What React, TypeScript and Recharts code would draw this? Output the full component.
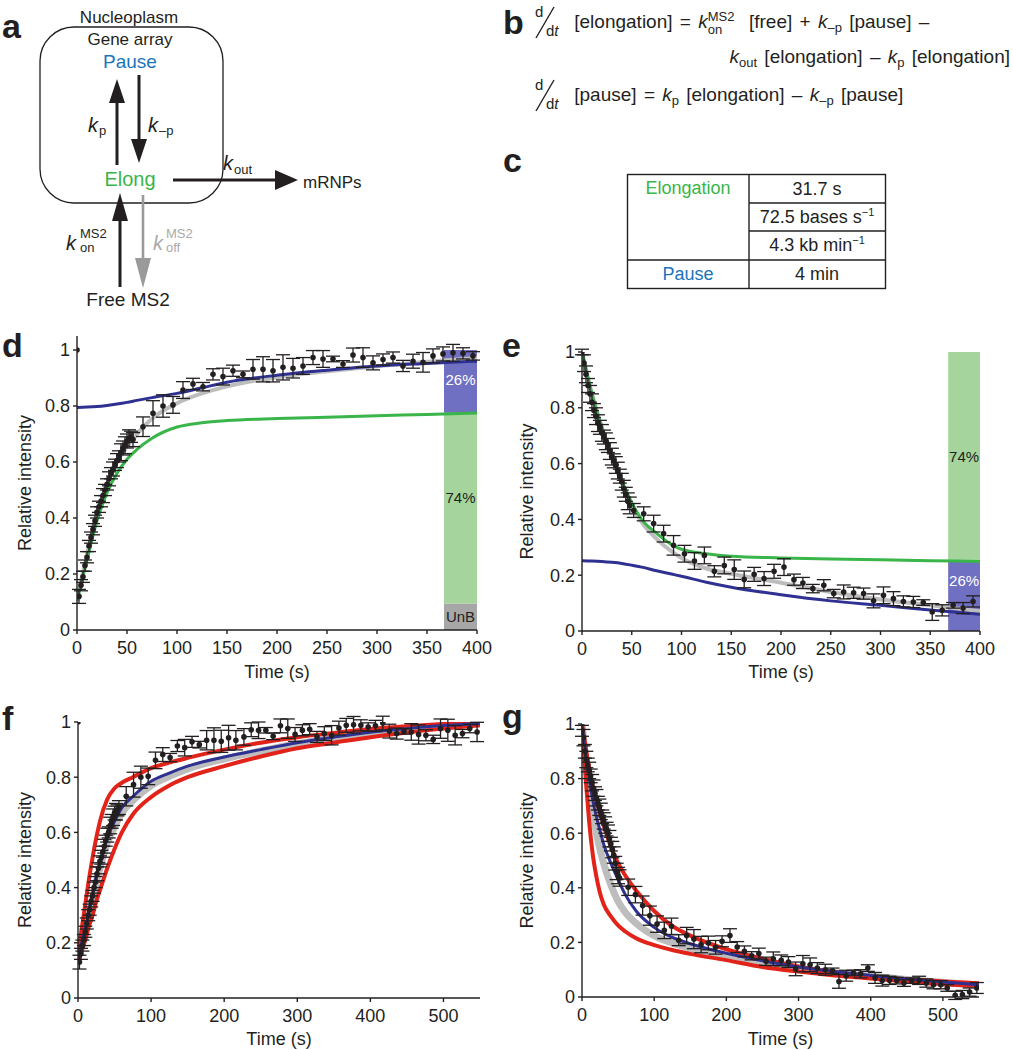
import React from 'react';
import {
  ComposedChart,
  Line,
  Scatter,
  ErrorBar,
  XAxis,
  YAxis,
  ReferenceArea,
} from 'recharts';

const INK = '#231f20';
const BLUE = '#2e3192';
const GREEN = '#39b54a';
const GRAY = '#bdbdbd';
const RED = '#e2231a';
const FONT = '"Liberation Sans", Arial, Helvetica, sans-serif';

const Y_TICKS = [0, 0.2, 0.4, 0.6, 0.8, 1];
const X_TICKS_400 = [0, 50, 100, 150, 200, 250, 300, 350, 400];
const X_TICKS_550 = [0, 100, 200, 300, 400, 500];

// d: FRAP recovery, [time, intensity, error]
const D_POINTS = [
  [0, 1, 0],
  [2, 0.12, 0.025], [4, 0.16, 0.02], [6, 0.19, 0.02], [8, 0.23, 0.02], [10, 0.26, 0.02],
  [12, 0.3, 0.02], [14, 0.33, 0.02], [16, 0.36, 0.02], [18, 0.39, 0.02], [20, 0.42, 0.02],
  [22, 0.44, 0.02], [24, 0.46, 0.02], [26, 0.48, 0.025], [28, 0.5, 0.02], [30, 0.52, 0.02],
  [32, 0.54, 0.025], [34, 0.56, 0.02], [36, 0.575, 0.025], [38, 0.59, 0.02], [40, 0.605, 0.025],
  [42, 0.62, 0.02], [44, 0.635, 0.03], [46, 0.65, 0.025], [48, 0.66, 0.03], [50, 0.675, 0.025],
  [52, 0.685, 0.03], [54, 0.69, 0.02], [56, 0.68, 0.025],
  [66, 0.726, 0.035], [76, 0.774, 0.045], [86, 0.8, 0.04], [96, 0.804, 0.03], [106, 0.857, 0.03],
  [116, 0.879, 0.02], [126, 0.869, 0.015], [136, 0.913, 0.02], [146, 0.905, 0.03], [156, 0.926, 0.02],
  [166, 0.913, 0.012], [176, 0.931, 0.035], [186, 0.931, 0.045], [196, 0.926, 0.04], [206, 0.938, 0.045],
  [216, 0.935, 0.035], [226, 0.943, 0.03], [236, 0.973, 0.025], [246, 0.968, 0.03], [256, 0.968, 0.01],
  [266, 0.95, 0.012], [276, 0.982, 0.025], [286, 0.973, 0.035], [296, 0.954, 0.025], [306, 0.966, 0.02],
  [316, 0.973, 0.02], [326, 0.943, 0.02], [336, 0.96, 0.025], [346, 0.956, 0.035], [356, 0.979, 0.025],
  [366, 0.986, 0.025], [376, 0.99, 0.03], [386, 0.988, 0.02], [396, 0.979, 0.015],
];
const D_GRID = [0, 10, 20, 30, 40, 50, 60, 75, 100, 125, 150, 200, 250, 300, 350, 400];
const D_BLUE = [0.795, 0.796, 0.798, 0.802, 0.807, 0.813, 0.82, 0.83, 0.845, 0.865, 0.885, 0.91, 0.928, 0.943, 0.952, 0.96];
const D_GREEN = [0.105, 0.25, 0.39, 0.49, 0.56, 0.61, 0.645, 0.685, 0.725, 0.74, 0.748, 0.755, 0.76, 0.765, 0.77, 0.775];
const D_GRAY = [0.11, 0.27, 0.42, 0.52, 0.6, 0.655, 0.7, 0.755, 0.81, 0.845, 0.87, 0.903, 0.924, 0.942, 0.958, 0.972];
const D_BAR_T = [367, 400];
const D_BAR_EDGES = [0, 0.095, 0.776, 1];
const D_BAR_LABELS = ['UnB', '74%', '26%'];

// e: loss of fluorescence
const E_POINTS = [
  [0, 1, 0.01],
  [2, 0.96, 0.03], [4, 0.92, 0.03], [6, 0.88, 0.025], [8, 0.85, 0.03], [10, 0.82, 0.03],
  [12, 0.79, 0.025], [14, 0.77, 0.03], [16, 0.745, 0.03], [18, 0.73, 0.025], [20, 0.71, 0.03],
  [22, 0.695, 0.025], [24, 0.68, 0.03], [26, 0.665, 0.025], [28, 0.645, 0.03], [30, 0.625, 0.03],
  [32, 0.61, 0.025], [34, 0.595, 0.03], [36, 0.575, 0.03], [38, 0.555, 0.025], [40, 0.535, 0.03],
  [42, 0.51, 0.03], [44, 0.49, 0.025], [46, 0.465, 0.03], [48, 0.45, 0.03],
  [52, 0.432, 0.025], [62, 0.42, 0.025], [72, 0.385, 0.03], [82, 0.349, 0.03], [92, 0.307, 0.035],
  [103, 0.277, 0.03], [113, 0.251, 0.03], [123, 0.271, 0.03], [133, 0.214, 0.02], [143, 0.235, 0.03],
  [153, 0.22, 0.035], [163, 0.185, 0.03], [173, 0.203, 0.025], [183, 0.188, 0.025], [193, 0.214, 0.025],
  [203, 0.229, 0.03], [213, 0.184, 0.02], [222, 0.172, 0.02], [232, 0.152, 0.015], [243, 0.164, 0.02],
  [253, 0.134, 0.015], [263, 0.14, 0.025], [273, 0.137, 0.02], [283, 0.134, 0.02], [293, 0.108, 0.025],
  [303, 0.128, 0.03], [313, 0.116, 0.025], [323, 0.106, 0.02], [333, 0.104, 0.02], [343, 0.102, 0.01],
  [352, 0.068, 0.03], [362, 0.074, 0.02], [373, 0.092, 0.01], [383, 0.082, 0.02], [393, 0.106, 0.02],
];
const E_GRID = [0, 10, 20, 30, 40, 50, 60, 75, 90, 100, 125, 150, 200, 250, 300, 350, 400];
const E_GREEN = [1, 0.85, 0.73, 0.63, 0.54, 0.46, 0.4, 0.35, 0.31, 0.293, 0.277, 0.268, 0.262, 0.258, 0.255, 0.252, 0.249];
const E_GRAY = [1, 0.85, 0.73, 0.62, 0.53, 0.45, 0.39, 0.33, 0.285, 0.262, 0.224, 0.205, 0.173, 0.14, 0.113, 0.092, 0.071];
const E_BLUE = [0.252, 0.251, 0.249, 0.246, 0.242, 0.236, 0.229, 0.216, 0.204, 0.196, 0.175, 0.157, 0.13, 0.108, 0.092, 0.075, 0.06];
const E_BAR_T = [368, 400];
const E_BAR_EDGES = [0, 0.25, 1];
const E_BAR_LABELS = ['26%', '74%'];

// f: recovery, longer time window, with parameter bounds
const F_POINTS = [
  [0, 1, 0],
  [2, 0.13, 0.025], [4, 0.16, 0.02], [6, 0.19, 0.02], [8, 0.21, 0.02], [10, 0.24, 0.02],
  [12, 0.27, 0.02], [14, 0.3, 0.02], [16, 0.32, 0.02], [18, 0.35, 0.02], [20, 0.37, 0.02],
  [22, 0.4, 0.02], [24, 0.42, 0.02], [26, 0.45, 0.025], [28, 0.47, 0.02], [30, 0.495, 0.02],
  [32, 0.51, 0.025], [34, 0.53, 0.02], [36, 0.55, 0.025], [38, 0.57, 0.02], [40, 0.59, 0.025],
  [42, 0.6, 0.02], [44, 0.625, 0.03], [46, 0.64, 0.025], [48, 0.655, 0.03], [50, 0.67, 0.025],
  [52, 0.675, 0.03], [54, 0.68, 0.02], [56, 0.69, 0.025],
  [66, 0.731, 0.035], [76, 0.773, 0.045], [86, 0.8, 0.04], [96, 0.803, 0.03], [106, 0.861, 0.03],
  [116, 0.882, 0.025], [126, 0.871, 0.015], [136, 0.913, 0.02], [146, 0.907, 0.03], [156, 0.928, 0.02],
  [166, 0.918, 0.012], [176, 0.934, 0.035], [186, 0.934, 0.045], [196, 0.93, 0.04], [206, 0.943, 0.045],
  [216, 0.934, 0.035], [227, 0.946, 0.03], [237, 0.972, 0.025], [247, 0.97, 0.03], [257, 0.97, 0.01],
  [267, 0.948, 0.012], [277, 0.986, 0.025], [287, 0.976, 0.035], [297, 0.955, 0.025], [307, 0.97, 0.02],
  [317, 0.974, 0.02], [327, 0.946, 0.02], [337, 0.958, 0.025], [347, 0.952, 0.035], [357, 0.978, 0.025],
  [367, 0.988, 0.025], [377, 0.99, 0.03], [387, 0.988, 0.02], [397, 0.982, 0.015], [407, 0.986, 0.02],
  [417, 0.996, 0.025], [426, 0.967, 0.025], [436, 0.958, 0.02], [446, 0.966, 0.01], [456, 0.964, 0.03],
  [466, 0.955, 0.035], [476, 0.952, 0.02], [486, 0.937, 0.015], [496, 0.976, 0.035], [506, 0.97, 0.04],
  [516, 0.952, 0.035], [526, 0.958, 0.015], [536, 0.976, 0.015], [546, 0.964, 0.035],
];
const F_GRID = [0, 5, 10, 15, 20, 25, 30, 40, 50, 60, 75, 100, 125, 150, 200, 250, 300, 350, 400, 450, 500, 550];
const F_RED_HI = [0.16, 0.25, 0.34, 0.43, 0.51, 0.58, 0.64, 0.72, 0.76, 0.78, 0.8, 0.833, 0.853, 0.87, 0.9, 0.925, 0.945, 0.96, 0.975, 0.985, 0.993, 1.0];
const F_RED_LO = [0.13, 0.17, 0.21, 0.26, 0.3, 0.35, 0.39, 0.47, 0.54, 0.6, 0.665, 0.728, 0.77, 0.8, 0.84, 0.875, 0.905, 0.925, 0.945, 0.962, 0.976, 0.988];
const F_BLUE = [0.15, 0.2, 0.25, 0.32, 0.38, 0.44, 0.49, 0.58, 0.64, 0.69, 0.73, 0.785, 0.815, 0.84, 0.873, 0.9, 0.925, 0.945, 0.963, 0.976, 0.987, 0.995];
const F_GRAY = [0.14, 0.19, 0.24, 0.3, 0.36, 0.42, 0.47, 0.56, 0.62, 0.67, 0.715, 0.77, 0.803, 0.83, 0.866, 0.895, 0.921, 0.942, 0.96, 0.974, 0.985, 0.994];

// g: loss, longer time window, with parameter bounds
const G_POINTS = [
  [0, 0.975, 0.02],
  [2, 0.95, 0.03], [4, 0.9, 0.025], [6, 0.87, 0.03], [8, 0.85, 0.025], [10, 0.83, 0.03],
  [12, 0.81, 0.025], [14, 0.785, 0.03], [16, 0.765, 0.03], [18, 0.745, 0.025], [20, 0.73, 0.03],
  [22, 0.71, 0.025], [24, 0.695, 0.03], [26, 0.68, 0.03], [28, 0.66, 0.025], [30, 0.645, 0.03],
  [32, 0.63, 0.03], [34, 0.615, 0.025], [36, 0.6, 0.03], [38, 0.58, 0.03], [40, 0.56, 0.025],
  [42, 0.54, 0.03], [44, 0.52, 0.03], [46, 0.49, 0.025], [48, 0.46, 0.03], [50, 0.445, 0.03],
  [52, 0.436, 0.03], [64, 0.402, 0.03], [74, 0.375, 0.03], [84, 0.335, 0.035], [94, 0.298, 0.035],
  [104, 0.267, 0.03], [114, 0.244, 0.03], [124, 0.259, 0.03], [134, 0.208, 0.02], [145, 0.225, 0.03],
  [155, 0.212, 0.035], [165, 0.192, 0.03], [175, 0.198, 0.025], [185, 0.182, 0.025], [194, 0.204, 0.02],
  [205, 0.225, 0.025], [215, 0.183, 0.02], [225, 0.167, 0.02], [235, 0.151, 0.015], [245, 0.159, 0.02],
  [255, 0.131, 0.015], [265, 0.14, 0.025], [276, 0.134, 0.02], [286, 0.128, 0.02], [296, 0.103, 0.025],
  [306, 0.122, 0.03], [316, 0.118, 0.025], [326, 0.106, 0.02], [337, 0.1, 0.02], [347, 0.096, 0.01],
  [356, 0.057, 0.025], [366, 0.078, 0.02], [376, 0.088, 0.01], [386, 0.085, 0.015], [396, 0.106, 0.012],
  [406, 0.07, 0.02], [416, 0.06, 0.02], [426, 0.061, 0.015], [436, 0.06, 0.012], [446, 0.051, 0.012],
  [457, 0.06, 0.01], [467, 0.061, 0.015], [477, 0.051, 0.015], [487, 0.045, 0.015], [497, 0.045, 0.015],
  [506, 0.033, 0.012], [517, 0.006, 0.015], [527, 0.009, 0.015], [537, 0.018, 0.015], [547, 0.033, 0.02],
];
const G_GRID = [0, 3, 6, 10, 15, 20, 25, 30, 40, 50, 60, 75, 100, 125, 150, 200, 250, 300, 350, 400, 450, 500, 550];
const G_RED_HI = [1.0, 0.95, 0.9, 0.84, 0.77, 0.72, 0.67, 0.63, 0.55, 0.49, 0.445, 0.39, 0.315, 0.26, 0.225, 0.175, 0.14, 0.112, 0.092, 0.076, 0.065, 0.057, 0.05];
const G_RED_LO = [1.0, 0.88, 0.77, 0.64, 0.52, 0.44, 0.38, 0.34, 0.295, 0.262, 0.24, 0.215, 0.19, 0.172, 0.158, 0.135, 0.11, 0.093, 0.079, 0.068, 0.056, 0.047, 0.039];
const G_BLUE = [1.0, 0.94, 0.88, 0.8, 0.72, 0.66, 0.61, 0.56, 0.49, 0.43, 0.375, 0.315, 0.255, 0.218, 0.195, 0.16, 0.133, 0.11, 0.093, 0.079, 0.066, 0.055, 0.045];
const G_GRAY = [1.0, 0.92, 0.85, 0.76, 0.67, 0.6, 0.54, 0.49, 0.41, 0.35, 0.31, 0.27, 0.225, 0.198, 0.178, 0.15, 0.124, 0.104, 0.089, 0.076, 0.064, 0.054, 0.044];

const toPoints = (rows: number[][]) => rows.map(([t, v, err]) => ({ t, v, err }));
const toCurve = (grid: number[], vals: number[]) => grid.map((t, i) => ({ t, v: vals[i] }));

type Curve = { data: { t: number; v: number }[]; color: string; width: number };
type BarSeg = { y1: number; y2: number; label: string; fill: string; text: string; dy: number };

function Dot(p: any) {
  if (p.cx == null || p.cy == null) return null;
  return <circle cx={p.cx} cy={p.cy} r={2.8} fill={INK} />;
}

function FitPanel(props: {
  left: number;
  top: number;
  width: number;
  height: number;
  margin: { top: number; right: number; bottom: number; left: number };
  yAxisWidth: number;
  xAxisHeight: number;
  xDomain: [number, number];
  xTicks: number[];
  yDomain: [number, number];
  points: { t: number; v: number; err: number }[];
  curves: Curve[];
  barT?: number[];
  bars?: BarSeg[];
  yLabelOffset: number;
  xLabelOffset: number;
}) {
  const p = props;
  return (
    <div style={{ position: 'absolute', left: p.left, top: p.top }}>
      <ComposedChart width={p.width} height={p.height} margin={p.margin}>
        <XAxis
          dataKey="t"
          type="number"
          domain={p.xDomain}
          ticks={p.xTicks}
          allowDataOverflow
          height={p.xAxisHeight}
          stroke={INK}
          strokeWidth={1.4}
          tickSize={4}
          tickMargin={7}
          tick={{ fill: INK, fontSize: 18 }}
          label={{ value: 'Time (s)', position: 'insideBottom', offset: p.xLabelOffset, fill: INK, fontSize: 18 }}
        />
        <YAxis
          type="number"
          domain={p.yDomain}
          ticks={Y_TICKS}
          allowDataOverflow
          width={p.yAxisWidth}
          stroke={INK}
          strokeWidth={1.4}
          tickSize={4}
          tickMargin={3}
          tick={{ fill: INK, fontSize: 18 }}
          label={{
            value: 'Relative intensity',
            angle: -90,
            position: 'insideLeft',
            offset: p.yLabelOffset,
            fill: INK,
            fontSize: 18,
            style: { textAnchor: 'middle' },
          }}
        />
        {p.bars &&
          p.barT &&
          p.bars.map((b) => (
            <ReferenceArea
              key={b.label}
              x1={p.barT![0]}
              x2={p.barT![1]}
              y1={b.y1}
              y2={b.y2}
              fill={b.fill}
              fillOpacity={1}
              stroke="none"
              label={{ value: b.label, position: 'center', fill: b.text, fontSize: 15, dy: b.dy }}
            />
          ))}
        {p.curves.map((c, i) => (
          <Line
            key={i}
            data={c.data}
            dataKey="v"
            type="monotone"
            stroke={c.color}
            strokeWidth={c.width}
            dot={false}
            activeDot={false}
            isAnimationActive={false}
          />
        ))}
        <Scatter data={p.points} dataKey="v" shape={Dot} isAnimationActive={false}>
          <ErrorBar dataKey="err" direction="y" width={7} stroke={INK} strokeWidth={1.3} isAnimationActive={false} />
        </Scatter>
      </ComposedChart>
    </div>
  );
}

function Frac() {
  return (
    <svg width={34} height={34} style={{ verticalAlign: -11, overflow: 'visible' }}>
      <text x={2} y={12} fontSize={15} fill={INK} fontFamily={FONT}>d</text>
      <line x1={3} y1={33} x2={21} y2={2} stroke={INK} strokeWidth={1.4} />
      <text x={13} y={31} fontSize={15} fill={INK} fontFamily={FONT}>
        d<tspan fontStyle="italic">t</tspan>
      </text>
    </svg>
  );
}

function K({ sub, sup }: { sub: string; sup?: string }) {
  return (
    <span style={{ whiteSpace: 'nowrap', wordSpacing: 0 }}>
      <i>k</i>
      {sup ? (
        <span
          style={{
            display: 'inline-flex',
            flexDirection: 'column',
            fontSize: 13,
            lineHeight: '13px',
            verticalAlign: '7px',
          }}
        >
          <span>{sup}</span>
          <span>{sub}</span>
        </span>
      ) : (
        <span style={{ fontSize: 13, verticalAlign: '-4px' }}>{sub}</span>
      )}
    </span>
  );
}

function Diagram() {
  const t = { fontFamily: FONT, fill: INK };
  return (
    <svg width={1013} height={320} style={{ position: 'absolute', left: 0, top: 0 }}>
      <text x={2} y={38} fontSize={34} fontWeight="bold" {...t}>a</text>
      <text x={129} y={23} fontSize={17} textAnchor="middle" {...t}>Nucleoplasm</text>
      <rect x={40} y={27} width={183} height={176} rx={34} fill="none" stroke={INK} strokeWidth={1.3} />
      <text x={130} y={45} fontSize={17} textAnchor="middle" {...t}>Gene array</text>
      <text x={130} y={68} fontSize={19} textAnchor="middle" fontFamily={FONT} fill="#1b75bc">Pause</text>
      <text x={130} y={186} fontSize={20} textAnchor="middle" fontFamily={FONT} fill={GREEN}>Elong</text>

      {/* kp / k-p */}
      <line x1={117} y1={165} x2={117} y2={100} stroke={INK} strokeWidth={3} />
      <polygon points="109,103 125,103 117,79" fill={INK} />
      <line x1={139} y1={75} x2={139} y2={142} stroke={INK} strokeWidth={3} />
      <polygon points="131,139 147,139 139,163" fill={INK} />
      <text x={88} y={132} fontSize={20} fontStyle="italic" {...t}>k</text>
      <text x={99} y={135} fontSize={13} {...t}>p</text>
      <text x={148} y={132} fontSize={20} fontStyle="italic" {...t}>k</text>
      <text x={159} y={135} fontSize={13} {...t}>–p</text>

      {/* kout */}
      <line x1={173} y1={180} x2={278} y2={180} stroke={INK} strokeWidth={3} />
      <polygon points="275,170 275,190 298,180" fill={INK} />
      <text x={223} y={170} fontSize={20} fontStyle="italic" {...t}>k</text>
      <text x={234} y={174} fontSize={13} {...t}>out</text>
      <text x={303} y={188} fontSize={17} {...t}>mRNPs</text>

      {/* kon / koff */}
      <line x1={120} y1={287} x2={120} y2={215} stroke={INK} strokeWidth={3} />
      <polygon points="112,221 128,221 120,193" fill={INK} />
      <line x1={143} y1={195} x2={143} y2={262} stroke="#9a9a9a" strokeWidth={2.6} />
      <polygon points="135,258 151,258 143,288" fill="#9a9a9a" />
      <text x={66} y={250} fontSize={20} fontStyle="italic" {...t}>k</text>
      <text x={80} y={238} fontSize={13} {...t}>MS2</text>
      <text x={80} y={252} fontSize={13} {...t}>on</text>
      <text x={153} y={250} fontSize={20} fontStyle="italic" fontFamily={FONT} fill="#aaaaaa">k</text>
      <text x={166} y={238} fontSize={13} fontFamily={FONT} fill="#aaaaaa">MS2</text>
      <text x={166} y={252} fontSize={13} fontFamily={FONT} fill="#aaaaaa">off</text>
      <text x={128} y={306} fontSize={19} textAnchor="middle" {...t}>Free MS2</text>

      {/* b, c letters */}
      <text x={503} y={34} fontSize={34} fontWeight="bold" {...t}>b</text>
      <text x={503} y={172} fontSize={34} fontWeight="bold" {...t}>c</text>

      {/* table */}
      <rect x={627.5} y={174.5} width={258} height={114} fill="none" stroke={INK} strokeWidth={1.4} />
      <line x1={749} y1={174.5} x2={749} y2={288.5} stroke={INK} strokeWidth={1.4} />
      <line x1={627.5} y1={260} x2={885.5} y2={260} stroke={INK} strokeWidth={1.4} />
      <line x1={749} y1={203} x2={885.5} y2={203} stroke={INK} strokeWidth={1.4} />
      <line x1={749} y1={231} x2={885.5} y2={231} stroke={INK} strokeWidth={1.4} />
      <text x={688} y={194} fontSize={18} textAnchor="middle" fontFamily={FONT} fill={GREEN}>Elongation</text>
      <text x={688} y={280} fontSize={18} textAnchor="middle" fontFamily={FONT} fill="#1b75bc">Pause</text>
      <text x={817} y={195} fontSize={18} textAnchor="middle" {...t}>31.7 s</text>
      <text x={817} y={223} fontSize={18} textAnchor="middle" {...t}>
        72.5 bases s<tspan dy={-7} fontSize={11}>−1</tspan>
      </text>
      <text x={817} y={251} fontSize={18} textAnchor="middle" {...t}>
        4.3 kb min<tspan dy={-7} fontSize={11}>−1</tspan>
      </text>
      <text x={817} y={280} fontSize={18} textAnchor="middle" {...t}>4 min</text>
    </svg>
  );
}

function Letters() {
  const s = { fontFamily: FONT, fill: INK, fontSize: 34, fontWeight: 'bold' as const };
  return (
    <svg width={1013} height={1050} style={{ position: 'absolute', left: 0, top: 0, pointerEvents: 'none' }}>
      <text x={2} y={357} {...s}>d</text>
      <text x={502} y={357} {...s}>e</text>
      <text x={2} y={730} {...s}>f</text>
      <text x={502} y={728} {...s}>g</text>
    </svg>
  );
}

export default function App() {
  const dPoints = toPoints(D_POINTS);
  const ePoints = toPoints(E_POINTS);
  const fPoints = toPoints(F_POINTS);
  const gPoints = toPoints(G_POINTS);

  const dBarStyle = [
    { fill: '#a7a7a7', text: INK, dy: 0 },
    { fill: '#a5d59c', text: INK, dy: -10 },
    { fill: '#6f70c1', text: '#ffffff', dy: -2 },
  ];
  const eBarStyle = [
    { fill: '#6f70c1', text: '#ffffff', dy: -15 },
    { fill: '#a5d59c', text: INK, dy: 0 },
  ];
  const dBars: BarSeg[] = D_BAR_LABELS.map((label, i) => ({
    y1: D_BAR_EDGES[i],
    y2: D_BAR_EDGES[i + 1],
    label,
    ...dBarStyle[i],
  }));
  const eBars: BarSeg[] = E_BAR_LABELS.map((label, i) => ({
    y1: E_BAR_EDGES[i],
    y2: E_BAR_EDGES[i + 1],
    label,
    ...eBarStyle[i],
  }));

  const eq = { position: 'absolute' as const, fontSize: 19, lineHeight: '34px', whiteSpace: 'nowrap' as const, wordSpacing: 2 };

  return (
    <div style={{ position: 'relative', width: 1013, height: 1050, fontFamily: FONT, color: INK, background: '#fff', overflow: 'hidden' }}>
      <style>{'body{margin:0}'}</style>
      <Diagram />

      {/* b: rate equations */}
      <div style={{ ...eq, left: 533, top: 5 }}>
        <Frac />&nbsp;[elongation] = <K sup="MS2" sub="on" />&nbsp; [free] + <K sub="–p" /> [pause] –
      </div>
      <div style={{ ...eq, right: 3, top: 40 }}>
        <K sub="out" /> [elongation] – <K sub="p" /> [elongation]
      </div>
      <div style={{ ...eq, left: 533, top: 78 }}>
        <Frac />&nbsp;[pause] = <K sub="p" /> [elongation] – <K sub="–p" /> [pause]
      </div>

      <FitPanel
        left={0}
        top={300}
        width={500}
        height={390}
        margin={{ top: 36, right: 23, bottom: 0, left: 0 }}
        yAxisWidth={77}
        xAxisHeight={60}
        xDomain={[0, 400]}
        xTicks={X_TICKS_400}
        yDomain={[0, 1.05]}
        points={dPoints}
        curves={[
          { data: toCurve(D_GRID, D_GRAY), color: GRAY, width: 4 },
          { data: toCurve(D_GRID, D_GREEN), color: GREEN, width: 3 },
          { data: toCurve(D_GRID, D_BLUE), color: BLUE, width: 3 },
        ]}
        barT={D_BAR_T}
        bars={dBars}
        yLabelOffset={25}
        xLabelOffset={12}
      />
      <FitPanel
        left={500}
        top={300}
        width={500}
        height={390}
        margin={{ top: 52, right: 20, bottom: 0, left: 0 }}
        yAxisWidth={82}
        xAxisHeight={59}
        xDomain={[0, 400]}
        xTicks={X_TICKS_400}
        yDomain={[0, 1]}
        points={ePoints}
        curves={[
          { data: toCurve(E_GRID, E_GRAY), color: GRAY, width: 4 },
          { data: toCurve(E_GRID, E_GREEN), color: GREEN, width: 3 },
          { data: toCurve(E_GRID, E_BLUE), color: BLUE, width: 3 },
        ]}
        barT={E_BAR_T}
        bars={eBars}
        yLabelOffset={27}
        xLabelOffset={12}
      />
      <FitPanel
        left={0}
        top={680}
        width={500}
        height={370}
        margin={{ top: 42, right: 20, bottom: 0, left: 0 }}
        yAxisWidth={78}
        xAxisHeight={52}
        xDomain={[0, 550]}
        xTicks={X_TICKS_550}
        yDomain={[0, 1]}
        points={fPoints}
        curves={[
          { data: toCurve(F_GRID, F_GRAY), color: GRAY, width: 7 },
          { data: toCurve(F_GRID, F_RED_LO), color: RED, width: 4 },
          { data: toCurve(F_GRID, F_RED_HI), color: RED, width: 4 },
          { data: toCurve(F_GRID, F_BLUE), color: BLUE, width: 3 },
        ]}
        yLabelOffset={25}
        xLabelOffset={5}
      />
      <FitPanel
        left={500}
        top={680}
        width={500}
        height={370}
        margin={{ top: 44, right: 21, bottom: 0, left: 0 }}
        yAxisWidth={82}
        xAxisHeight={53}
        xDomain={[0, 550]}
        xTicks={X_TICKS_550}
        yDomain={[0, 1]}
        points={gPoints}
        curves={[
          { data: toCurve(G_GRID, G_GRAY), color: GRAY, width: 7 },
          { data: toCurve(G_GRID, G_RED_LO), color: RED, width: 4 },
          { data: toCurve(G_GRID, G_RED_HI), color: RED, width: 4 },
          { data: toCurve(G_GRID, G_BLUE), color: BLUE, width: 3 },
        ]}
        yLabelOffset={27}
        xLabelOffset={5}
      />
      <Letters />
    </div>
  );
}
